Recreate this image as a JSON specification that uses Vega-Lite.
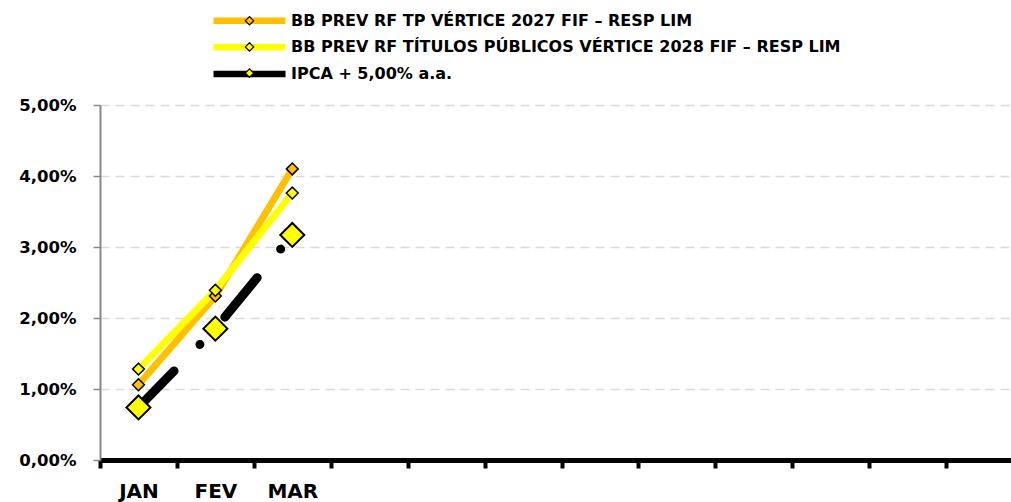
{
  "$schema": "https://vega.github.io/schema/vega-lite/v6.json",
  "width": 911,
  "height": 355,
  "autosize": "none",
  "padding": {"left": 100, "top": 105, "right": 0, "bottom": 42},
  "background": "white",
  "config": {"view": {"stroke": null}, "font": "DejaVu Sans"},
  "data": {
    "values": [
      {"serie": "BB PREV RF TP VÉRTICE 2027 FIF – RESP LIM", "mes": "JAN", "valor": 0.0106},
      {"serie": "BB PREV RF TP VÉRTICE 2027 FIF – RESP LIM", "mes": "FEV", "valor": 0.0231},
      {"serie": "BB PREV RF TP VÉRTICE 2027 FIF – RESP LIM", "mes": "MAR", "valor": 0.0410},
      {"serie": "BB PREV RF TÍTULOS PÚBLICOS VÉRTICE 2028 FIF – RESP LIM", "mes": "JAN", "valor": 0.0128},
      {"serie": "BB PREV RF TÍTULOS PÚBLICOS VÉRTICE 2028 FIF – RESP LIM", "mes": "FEV", "valor": 0.0239},
      {"serie": "BB PREV RF TÍTULOS PÚBLICOS VÉRTICE 2028 FIF – RESP LIM", "mes": "MAR", "valor": 0.0376},
      {"serie": "IPCA + 5,00% a.a.", "mes": "JAN", "valor": 0.0074},
      {"serie": "IPCA + 5,00% a.a.", "mes": "FEV", "valor": 0.0185},
      {"serie": "IPCA + 5,00% a.a.", "mes": "MAR", "valor": 0.0317}
    ]
  },
  "encoding": {
    "x": {
      "field": "mes",
      "type": "nominal",
      "sort": null,
      "scale": {
        "domain": ["JAN", "FEV", "MAR", "ABR", "MAI", "JUN", "JUL", "AGO", "SET", "OUT", "NOV", "DEZ"],
        "range": [0, 923],
        "paddingInner": 0,
        "paddingOuter": 0
      },
      "axis": {
        "title": null,
        "grid": false,
        "domainColor": "black",
        "domainWidth": 5,
        "tickColor": "black",
        "tickWidth": 4,
        "tickSize": 8,
        "tickBand": "extent",
        "labelAngle": 0,
        "labelFont": "DejaVu Sans",
        "labelFontWeight": "bold",
        "labelFontSize": 20,
        "labelColor": "black",
        "labelPadding": 13,
        "labelExpr": "indexof(['JAN','FEV','MAR'], datum.value) >= 0 ? datum.value : ''"
      }
    },
    "y": {
      "field": "valor",
      "type": "quantitative",
      "scale": {"domain": [0, 0.05], "nice": false, "zero": true},
      "axis": {
        "title": null,
        "values": [0, 0.01, 0.02, 0.03, 0.04, 0.05],
        "labelExpr": "replace(format(datum.value, '.2%'), '.', ',')",
        "domainColor": "#888888",
        "domainWidth": 2,
        "tickColor": "#888888",
        "tickWidth": 1.5,
        "tickSize": 7,
        "labelPadding": 17,
        "labelFont": "DejaVu Sans",
        "labelFontWeight": "bold",
        "labelFontSize": 16.5,
        "labelColor": "black",
        "grid": true,
        "gridColor": "#D9D9D9",
        "gridDash": [9, 6],
        "gridWidth": 1.5
      }
    }
  },
  "layer": [
    {
      "mark": {"type": "line", "strokeCap": "round", "strokeJoin": "round"},
      "encoding": {
        "color": {
          "field": "serie",
          "type": "nominal",
          "scale": {"range": ["#FFC000", "#FFFF00", "#000000"]},
          "legend": {
            "orient": "none",
            "legendX": 141.5,
            "legendY": -92.3,
            "title": null,
            "padding": 0,
            "symbolOffset": 0,
            "symbolType": "M-8,0H8",
            "symbolSize": 81,
            "symbolStrokeWidth": 6.5,
            "symbolDash": [1, 0],
            "labelFont": "DejaVu Sans",
            "labelFontWeight": "bold",
            "labelFontSize": 16,
            "labelColor": "black",
            "labelOffset": 33.5,
            "labelLimit": 1000,
            "rowPadding": 0.6
          }
        },
        "strokeWidth": {"condition": {"test": "datum.serie === 'IPCA + 5,00% a.a.'", "value": 9}, "value": 7},
        "strokeDash": {"condition": {"test": "datum.serie === 'IPCA + 5,00% a.a.'", "value": [51, 37, 0.01, 37]}, "value": [1, 0]}
      }
    },
    {
      "mark": {"type": "point", "shape": "diamond", "filled": true, "stroke": "black", "opacity": 1},
      "encoding": {
        "fill": {
          "field": "serie",
          "type": "nominal",
          "scale": {
            "domain": ["BB PREV RF TP VÉRTICE 2027 FIF – RESP LIM", "BB PREV RF TÍTULOS PÚBLICOS VÉRTICE 2028 FIF – RESP LIM", "IPCA + 5,00% a.a."],
            "range": ["#FFC000", "#FFFF00", "#FFFF00"]
          },
          "legend": {
            "orient": "none",
            "legendX": 141.5,
            "legendY": -92.3,
            "title": null,
            "padding": 0,
            "symbolOffset": 0,
            "symbolType": "diamond",
            "symbolSize": 70,
            "symbolStrokeColor": "black",
            "symbolStrokeWidth": 1.2,
            "labelFontSize": 16,
            "labelExpr": "''",
            "rowPadding": 10.2,
            "encode": {"symbols": {"update": {"stroke": {"value": "black"}, "strokeWidth": {"value": 1.2}}}}
          }
        },
        "size": {"condition": {"test": "datum.serie === 'IPCA + 5,00% a.a.'", "value": 576}, "value": 140},
        "strokeWidth": {"condition": {"test": "datum.serie === 'IPCA + 5,00% a.a.'", "value": 2}, "value": 1.5}
      }
    }
  ]
}
